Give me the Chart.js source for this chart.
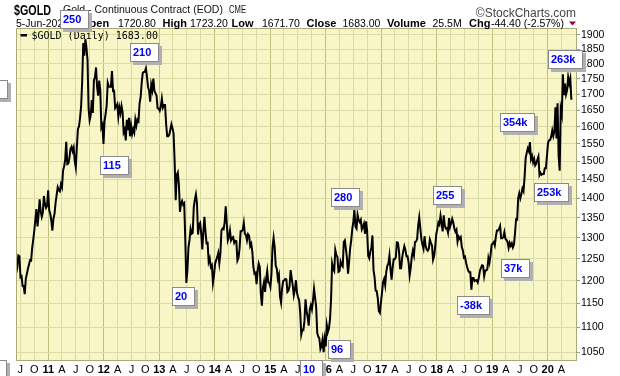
<!DOCTYPE html>
<html><head><meta charset="utf-8">
<script src="https://cdn.jsdelivr.net/npm/chart.js@4.4.1/dist/chart.umd.min.js"></script>
<style>html,body{margin:0;padding:0;background:#fff;}#wrap{width:620px;height:376px;position:relative;}</style>
</head><body><div id="wrap"><canvas id="c" width="620" height="376"></canvas></div>
<script>
// Weekly (Friday) estimated closes of $GOLD, starting Fri 4-Jun-2010
const gold2010 = [1218,1229,1258,1256, 1208,1210,1188,1188,1170, 1204,1215,1227,1237, 1247,1246,1276,1296, 1318,1346,1372,1328,1357, 1397,1366,1352,1363, 1406,1385,1375,1380,1421];
const gold2011 = [1369,1360,1342,1318, 1348,1360,1388,1409, 1429,1421,1418,1437, 1429,1474,1486,1504,1556, 1492,1494,1510,1536, 1542,1529,1539,1501, 1483,1542,1594,1601,1628, 1663,1744,1872,1828, 1885,1856,1813,1657,1620, 1635,1682,1642,1746, 1755,1788,1724,1696, 1745,1713,1598,1606,1550];
const gold2012 = [1617,1639,1665,1737, 1725,1725,1725,1776, 1711,1712,1657,1662,1669, 1631,1659,1642,1664, 1645,1584,1592,1560, 1621,1590,1627,1572,1604, 1579,1593,1583,1622, 1604,1622,1617,1672,1691, 1737,1770,1773,1774, 1785,1757,1724,1712, 1677,1731,1714,1751,1711, 1704,1696,1657,1656];
const gold2013 = [1649,1662,1687,1659, 1667,1667,1609,1572, 1572,1577,1592,1608,1596, 1581,1501,1395,1462, 1469,1437,1365,1386,1393, 1383,1387,1297,1195, 1223,1277,1295,1322, 1310,1312,1377,1396,1410, 1387,1308,1333,1337, 1310,1272,1315,1352, 1315,1287,1288,1243,1251, 1231,1235,1195,1212];
const gold2014 = [1238,1247,1254,1264,1240, 1262,1318,1323,1321, 1338,1379,1335,1294, 1302,1318,1294,1300, 1302,1288,1293,1292,1246, 1252,1274,1316,1316, 1320,1337,1310,1307, 1294,1309,1305,1280,1286, 1267,1231,1216,1218, 1192,1222,1239,1231,1171, 1145,1185,1197,1175, 1204,1222,1196,1195];
const gold2015 = [1186,1216,1277,1300,1278, 1234,1227,1204,1213, 1165,1152,1183,1199, 1201,1204,1203,1175, 1178,1188,1224,1205,1189, 1168,1180,1201,1173, 1163,1157,1131,1085,1095, 1094,1113,1159,1134, 1121,1103,1137,1146, 1137,1156,1182,1162,1142, 1088,1081,1077,1056, 1062,1075,1050,1076];
const gold2016 = [1061,1104,1090,1097,1116, 1158,1239,1227,1222, 1271,1259,1255,1220, 1222,1243,1235,1232,1290, 1294,1273,1252,1216, 1243,1275,1294,1322, 1340,1370,1328,1323,1357, 1344,1339,1345,1321, 1327,1335,1310,1341,1317, 1257,1251,1267,1276, 1306,1224,1208,1178, 1177,1162,1134,1130,1152];
const gold2017 = [1173,1197,1204,1190, 1220,1234,1239,1258, 1226,1202,1230,1249,1249, 1254,1289,1288,1268, 1228,1228,1254,1268, 1280,1271,1256,1256,1242, 1212,1229,1255,1269, 1258,1290,1291,1297, 1330,1351,1324,1297,1284, 1274,1304,1280,1272, 1269,1274,1296,1288, 1281,1248,1257,1278,1309];
const gold2018 = [1322,1338,1333,1355, 1337,1316,1356,1330, 1323,1324,1313,1349,1327, 1336,1347,1338,1323, 1315,1320,1291,1303, 1298,1302,1278,1270,1253, 1255,1241,1231,1223, 1219,1219,1180,1206,1206, 1199,1201,1201,1196, 1207,1222,1229,1235, 1234,1210,1223,1223,1226, 1252,1241,1258,1283];
const gold2019 = [1287,1290,1282,1303, 1318,1318,1322,1329, 1299,1299,1302,1314,1298, 1295,1290,1276,1288, 1281,1287,1277,1284,1311, 1346,1345,1400,1413, 1400,1412,1426,1419, 1457,1509,1524,1537,1529, 1555,1506,1515,1497, 1507,1489,1494,1505, 1514,1462,1468,1463,1465, 1465,1481,1481,1515];
const gold2020 = [1552,1560,1561,1571,1589, 1573,1586,1660,1566, 1672,1516,1474,1654, 1637,1765,1698,1735, 1700,1713,1756,1735,1751, 1683];

// Axis tick values and labels
const yTickValues = [1050,1100,1150,1200,1250,1300,1350,1400,1450,1500,1550,1600,1650,1700,1750,1800,1850,1900];
const xTickLabels = ['J','O',
 '11','A','J','O','12','A','J','O','13','A','J','O','14','A','J','O','15','A','J','O',
 '16','A','J','O','17','A','J','O','18','A','J','O','19','A','J','O','20','A'];

// Annotation boxes (text, anchor year, anchor price at box top-left)
const noteText  = ['250','210','115','20','96','10','280','255','-38k','37k','354k','253k','263k','',''];
const noteYear  = [2011.211,2012.473,2011.932,2013.230,2016.036,2015.538,2016.092,2017.925,2018.364,2019.157,2019.132,2019.745,2019.998,2009.768,2009.760];
const notePrice = [1991,1872,1516,1185,1074,1034,1426,1433,1165,1250,1641,1441,1848,1747,1034];

function decYear(ms){const d=new Date(ms);const y=d.getUTCFullYear();const s=Date.UTC(y,0,1),e=Date.UTC(y+1,0,1);return y+(ms-s)/(e-s);}
const allCloses = [].concat(gold2010,gold2011,gold2012,gold2013,gold2014,gold2015,gold2016,gold2017,gold2018,gold2019,gold2020);
const start = Date.UTC(2010,5,4);
const points = allCloses.map((v,i)=>({x:decYear(start+i*7*86400000), y:v}));
const xTickValues = [];
(function(){ let y=2010,m=6; for(let k=0;k<xTickLabels.length;k++){ xTickValues.push(decYear(Date.UTC(y,m,1))); m+=3; if(m>=12){m-=12;y++;} } })();

const SANS='"Liberation Sans", Arial, sans-serif';
function fitText(x,t,px,py,maxW){ const w=x.measureText(t).width; if(w>maxW){ x.save(); x.translate(px,py); x.scale(maxW/w,1); x.fillText(t,0,0); x.restore(); } else x.fillText(t,px,py); }
const bgPlugin = {
  id:'bg',
  beforeDraw(c){ const a=c.chartArea, x=c.ctx; x.save(); x.fillStyle='#f8f6c6'; x.fillRect(a.left,a.top,a.right-a.left,a.bottom-a.top); x.restore(); },
  afterDraw(c){
    const a=c.chartArea, x=c.ctx;
    x.save();
    x.strokeStyle='#a9aa78'; x.lineWidth=1;
    x.strokeRect(a.left+0.5,a.top+0.5,a.right-a.left-1,a.bottom-a.top);
    // header line 1
    x.fillStyle='#000'; x.textBaseline='alphabetic';
    x.font='bold 15px '+SANS; fitText(x,'$GOLD',14,15,37);
    x.fillStyle='#111'; x.font='10.5px '+SANS; fitText(x,'Gold - Continuous Contract (EOD)',63,13,162);
    x.font='10px '+SANS; fitText(x,'CME',229,13,17);
    x.fillStyle='#444'; x.font='12px '+SANS; x.textAlign='right'; x.fillText('\u00A9StockCharts.com',576,17); x.textAlign='left';
    // header line 2
    const segs=[['5-Jun-2020',16,0],['Open',81,1],['1720.80',118,0],['High',162.5,1],['1723.20',190,0],['Low',231.5,1],['1671.70',262,0],['Close',306.5,1],['1683.00',342.5,0],['Volume',387,1],['25.5M',432.5,0],['Chg',469,1],['-44.40 (-2.57%)',491,0]];
    x.fillStyle='#000';
    segs.forEach(s=>{ x.font=(s[2]?'bold 11px ':'10.5px ')+SANS; x.fillText(s[0],s[1],27); });
    x.fillStyle='#990033'; x.beginPath(); x.moveTo(569,21.5); x.lineTo(576,21.5); x.lineTo(572.5,25.5); x.closePath(); x.fill();
    // legend
    x.fillStyle='#000'; x.fillRect(20.5,34,6.5,2.5);
    x.font='10px "DejaVu Sans Mono", monospace'; x.fillText('$GOLD (Daily) 1683.00',31.5,38.5);
    // annotation boxes
    const xs=c.scales.x, ys=c.scales.y;
    x.font='bold 11px '+SANS;
    noteText.forEach((t,i)=>{
      const px=Math.round(xs.getPixelForValue(noteYear[i])), py=Math.round(ys.getPixelForValue(notePrice[i]));
      const bw = t ? Math.round(x.measureText(t).width+11) : 28, bh=19;
      x.fillStyle='#b0b0b0'; x.fillRect(px+3,py+3,bw,bh);
      x.fillStyle='#fff'; x.fillRect(px,py,bw,bh);
      x.strokeStyle='#8a8a8a'; x.strokeRect(px+0.5,py+0.5,bw-1,bh-1);
      x.fillStyle='#0000ee'; x.fillText(t,px+3,py+13);
    });
    x.restore();
  }
};

new Chart(document.getElementById('c'),{
  type:'line',
  data:{datasets:[{data:points,borderColor:'#000',borderWidth:2,pointRadius:0,tension:0,fill:false}]},
  options:{
    responsive:false,animation:false,devicePixelRatio:1,
    layout:{padding:{top:28,left:16,right:0,bottom:0}},
    plugins:{legend:{display:false},tooltip:{enabled:false},title:{display:false}},
    scales:{
      x:{type:'linear',min:2010.418,max:2020.528,
        afterBuildTicks:s=>{s.ticks=xTickValues.map(v=>({value:v}));},
        afterFit:s=>{s.height=16;},
        ticks:{autoSkip:false,maxRotation:0,minRotation:0,padding:3,color:'#000',
          font:c=>({family:SANS,size:11,weight:/\d/.test(xTickLabels[c.index]||'')?'bold':'normal'}),
          callback:(v,i)=>xTickLabels[i]},
        grid:{drawTicks:false,lineWidth:1,color:c=>/\d/.test(xTickLabels[c.index]||'')?'#bcc27e':'#dadca6'},
        border:{display:false}
      },
      y:{type:'logarithmic',position:'right',min:1034.5,max:1925,
        afterBuildTicks:s=>{s.ticks=yTickValues.map(v=>({value:v}));},
        afterFit:s=>{s.width=43;},
        ticks:{padding:1,color:'#000',font:{family:SANS,size:10.5},callback:v=>String(v)},
        grid:{color:'#dadca6',lineWidth:1,drawTicks:true,tickLength:3,tickColor:'#999'},
        border:{display:false}
      }
    }
  },
  plugins:[bgPlugin]
});
</script></body></html>
